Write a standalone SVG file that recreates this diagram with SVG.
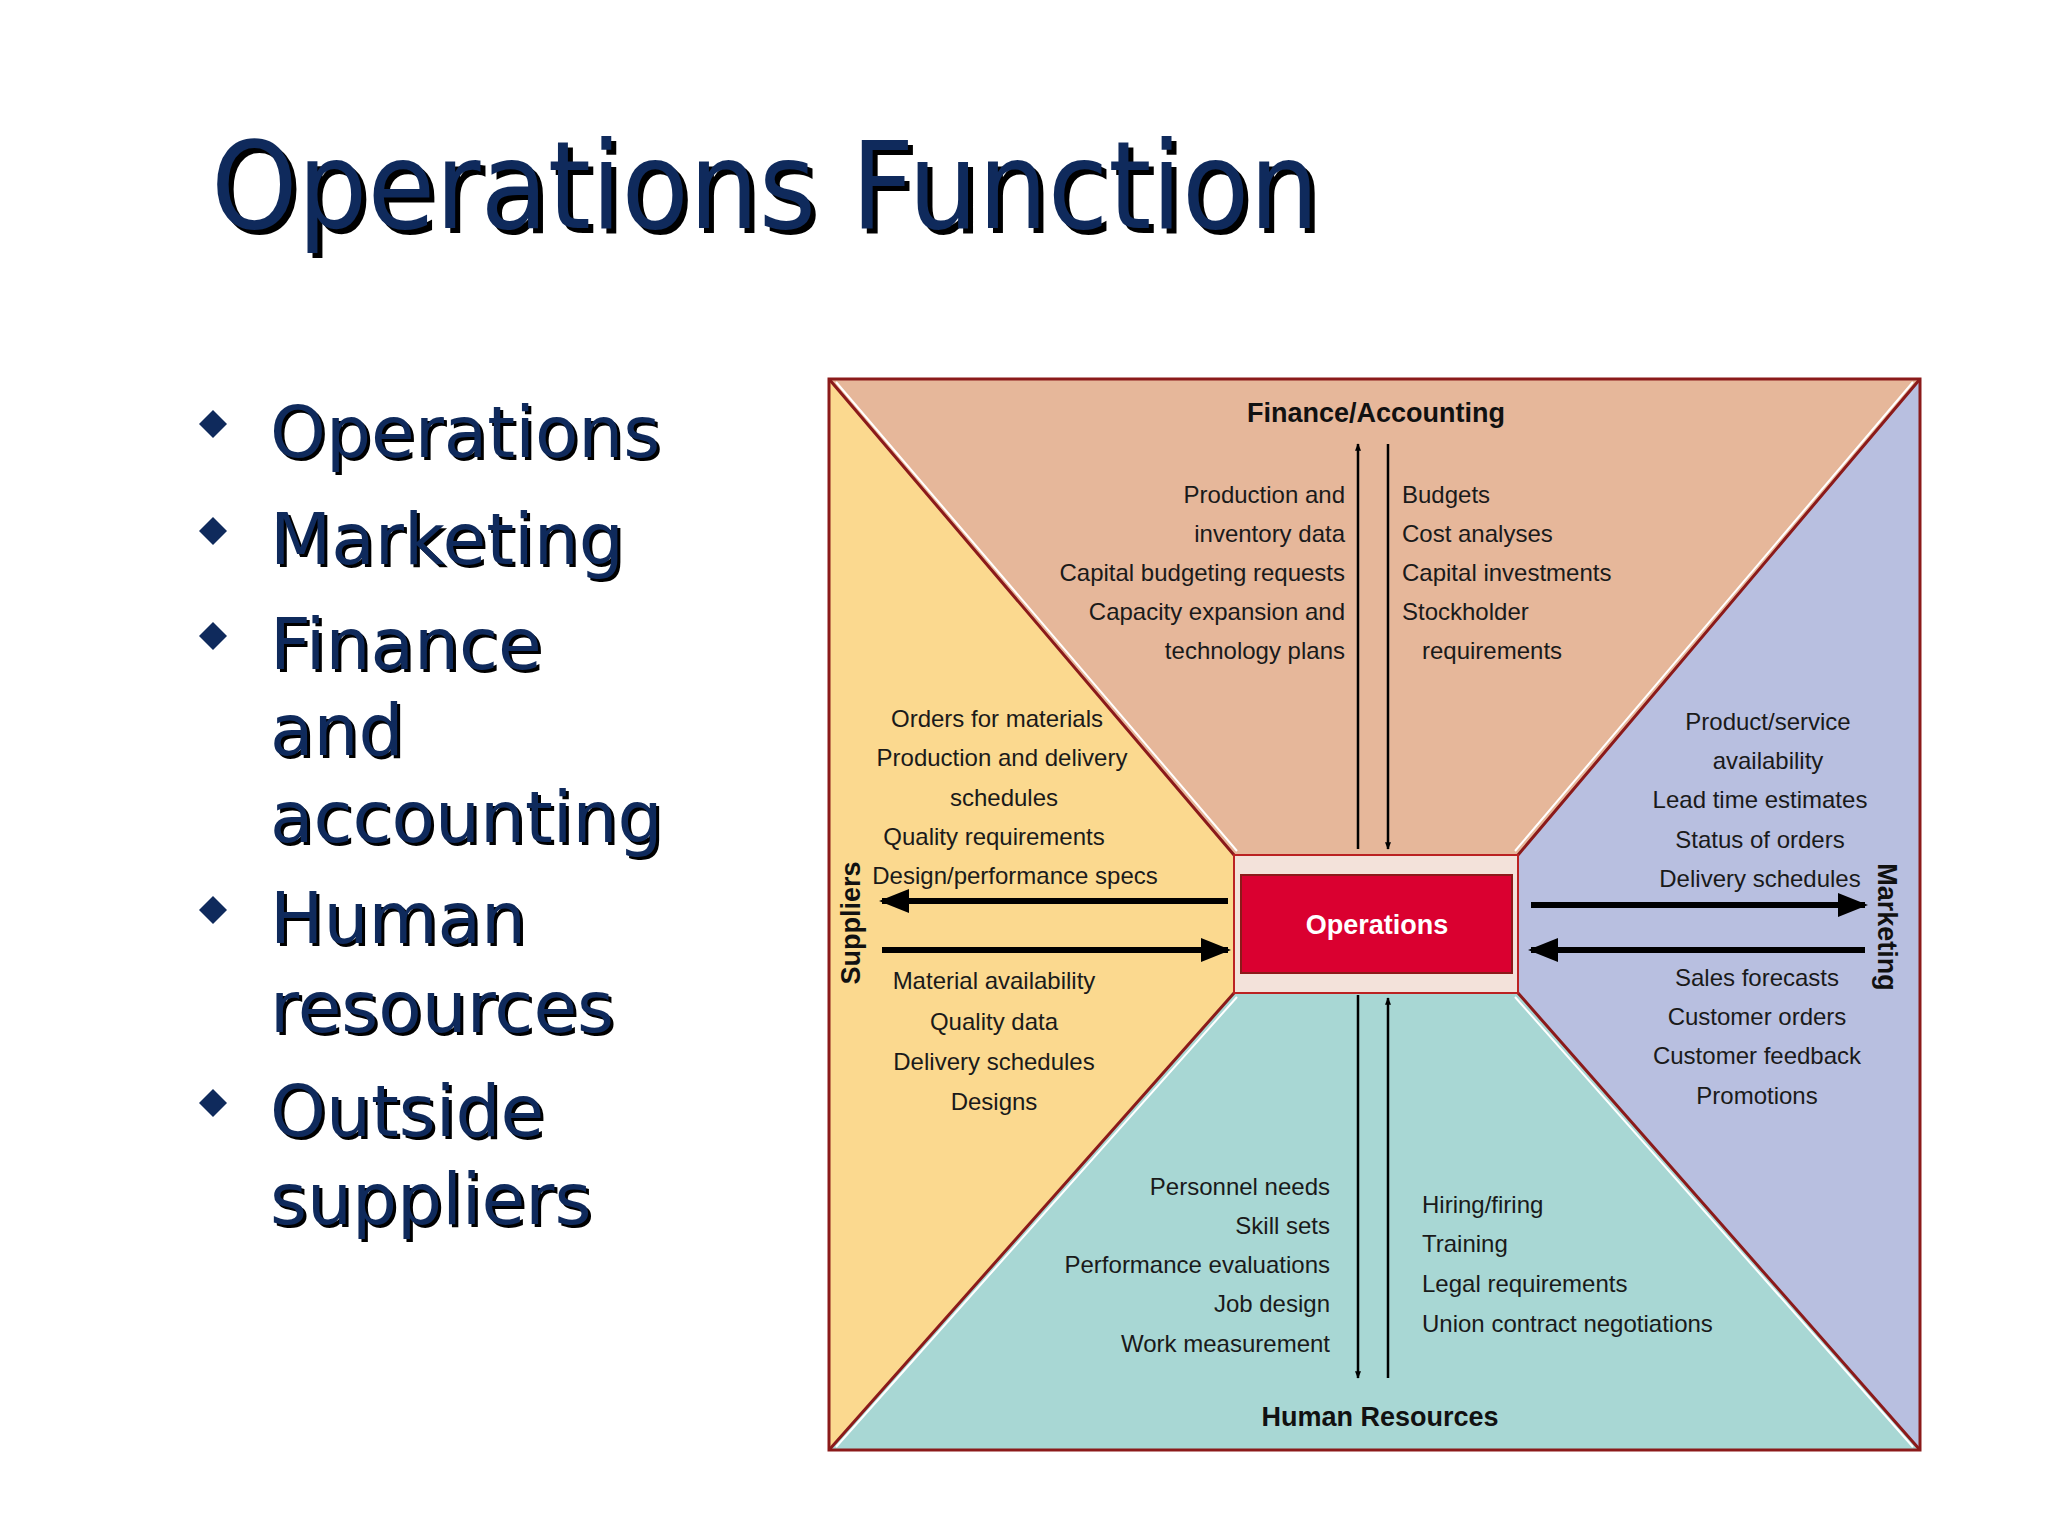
<svg xmlns="http://www.w3.org/2000/svg" width="2048" height="1536" viewBox="0 0 2048 1536">
<defs>
<style>
.t{font-family:"Liberation Sans",Arial,sans-serif;font-size:24px;fill:#1a1a1a;dominant-baseline:central}
.h{font-family:"Liberation Sans",Arial,sans-serif;font-size:27px;font-weight:bold;fill:#111;dominant-baseline:central}
.b{font-family:"DejaVu Sans",Verdana,sans-serif;font-size:71px;fill:#0F2A5C}
.bs{font-family:"DejaVu Sans",Verdana,sans-serif;font-size:71px;fill:#000}
.ln{stroke:#000;stroke-width:2.5;fill:none}
.th{stroke:#000;stroke-width:6;fill:none}
.edge{stroke:#8B1A1A;stroke-width:3;fill:none}
</style>
<marker id="a" viewBox="0 0 10 10" refX="9" refY="5" markerWidth="5" markerHeight="5" orient="auto"><path d="M0,1L10,5L0,9z" fill="#000"/></marker>
<marker id="a2" viewBox="0 0 10 10" refX="9" refY="5" markerWidth="3" markerHeight="3" orient="auto"><path d="M0,1L10,5L0,9z" fill="#000"/></marker>
</defs>
<rect width="2048" height="1536" fill="#fff"/>
<g id="title">
<text x="216" y="233" font-family="DejaVu Sans,Verdana,sans-serif" font-size="122" fill="#000" textLength="1108" lengthAdjust="spacingAndGlyphs">Operations Function</text>
<text x="211" y="228" font-family="DejaVu Sans,Verdana,sans-serif" font-size="122" fill="#0F2A5C" textLength="1108" lengthAdjust="spacingAndGlyphs">Operations Function</text>
</g>
<g id="bullets">
<g fill="#0F2A5C">
<path d="M213,410l14,14l-14,14l-14,-14z"/>
<path d="M213,517l14,14l-14,14l-14,-14z"/>
<path d="M213,622l14,14l-14,14l-14,-14z"/>
<path d="M213,896l14,14l-14,14l-14,-14z"/>
<path d="M213,1089l14,14l-14,14l-14,-14z"/>
</g>
<g class="bs" transform="translate(3,3)">
<text x="270" y="457">Operations</text><text x="270" y="564">Marketing</text><text x="270" y="669">Finance</text><text x="270" y="755">and</text><text x="270" y="842">accounting</text><text x="270" y="943">Human</text><text x="270" y="1032">resources</text><text x="270" y="1136">Outside</text><text x="270" y="1224">suppliers</text>
</g>
<g class="b">
<text x="270" y="457">Operations</text><text x="270" y="564">Marketing</text><text x="270" y="669">Finance</text><text x="270" y="755">and</text><text x="270" y="842">accounting</text><text x="270" y="943">Human</text><text x="270" y="1032">resources</text><text x="270" y="1136">Outside</text><text x="270" y="1224">suppliers</text>
</g>
</g>
<g id="panels">
<polygon id="finance" points="829,379 1920,379 1518,855 1234,855" fill="#E6B79A"/>
<polygon id="suppliers" points="829,379 1234,855 1234,993 829,1450" fill="#FBD98F"/>
<polygon id="marketing" points="1920,379 1920,1450 1518,993 1518,855" fill="#B8BFE0"/>
<polygon id="hr" points="829,1450 1920,1450 1518,993 1234,993" fill="#A8D7D4"/>
<rect x="829" y="379" width="1091" height="1071" class="edge"/>
<path class="edge" d="M829,379L1234,855M1920,379L1518,855M829,1450L1234,993M1920,1450L1518,993"/>
<path d="M836,382L1237,851M1913,382L1515,851M836,1447L1237,997M1913,1447L1515,997" stroke="#fff" stroke-width="2" fill="none"/>
</g>
<g id="operations">
<rect x="1234" y="855" width="284" height="138" fill="#F3E2DA" stroke="#B22" stroke-width="2"/>
<rect x="1241" y="875" width="271" height="98" fill="#DA0030" stroke="#8B1A1A" stroke-width="2"/>
<text x="1377" y="925" class="h" text-anchor="middle" style="fill:#fff">Operations</text>
</g>
<g id="connectors">
<line x1="1358" y1="849" x2="1358" y2="444" class="ln" marker-end="url(#a2)"/>
<line x1="1388" y1="444" x2="1388" y2="849" class="ln" marker-end="url(#a2)"/>
<line x1="1358" y1="995" x2="1358" y2="1378" class="ln" marker-end="url(#a2)"/>
<line x1="1388" y1="1378" x2="1388" y2="998" class="ln" marker-end="url(#a2)"/>
<line x1="1228" y1="901" x2="882" y2="901" class="th" marker-end="url(#a)"/>
<line x1="882" y1="950" x2="1228" y2="950" class="th" marker-end="url(#a)"/>
<line x1="1531" y1="905" x2="1865" y2="905" class="th" marker-end="url(#a)"/>
<line x1="1865" y1="950" x2="1531" y2="950" class="th" marker-end="url(#a)"/>
</g>
<g id="labels">
<text x="1376" y="413" class="h" text-anchor="middle">Finance/Accounting</text>
<g class="t" text-anchor="end">
<text x="1345" y="494">Production and</text><text x="1345" y="533">inventory data</text><text x="1345" y="572">Capital budgeting requests</text><text x="1345" y="611">Capacity expansion and</text><text x="1345" y="650">technology plans</text>
</g>
<g class="t">
<text x="1402" y="494">Budgets</text><text x="1402" y="533">Cost analyses</text><text x="1402" y="572">Capital investments</text><text x="1402" y="611">Stockholder</text><text x="1422" y="650">requirements</text>
</g>
<g class="t" text-anchor="middle">
<text x="997" y="718">Orders for materials</text><text x="1002" y="757">Production and delivery</text><text x="1004" y="797">schedules</text><text x="994" y="836">Quality requirements</text><text x="1015" y="875">Design/performance specs</text>
<text x="994" y="980">Material availability</text><text x="994" y="1021">Quality data</text><text x="994" y="1061">Delivery schedules</text><text x="994" y="1101">Designs</text>
<text x="1768" y="721">Product/service</text><text x="1768" y="760">availability</text><text x="1760" y="799">Lead time estimates</text><text x="1760" y="839">Status of orders</text><text x="1760" y="878">Delivery schedules</text>
<text x="1757" y="977">Sales forecasts</text><text x="1757" y="1016">Customer orders</text><text x="1757" y="1055">Customer feedback</text><text x="1757" y="1095">Promotions</text>
</g>
<g class="t" text-anchor="end">
<text x="1330" y="1186">Personnel needs</text><text x="1330" y="1225">Skill sets</text><text x="1330" y="1264">Performance evaluations</text><text x="1330" y="1303">Job design</text><text x="1330" y="1343">Work measurement</text>
</g>
<g class="t">
<text x="1422" y="1204">Hiring/firing</text><text x="1422" y="1243">Training</text><text x="1422" y="1283">Legal requirements</text><text x="1422" y="1323">Union contract negotiations</text>
</g>
<text x="1380" y="1417" class="h" text-anchor="middle">Human Resources</text>
<text transform="translate(851,923) rotate(-90)" class="h" text-anchor="middle">Suppliers</text>
<text transform="translate(1887,927) rotate(90)" class="h" text-anchor="middle">Marketing</text>
</g>
</svg>
